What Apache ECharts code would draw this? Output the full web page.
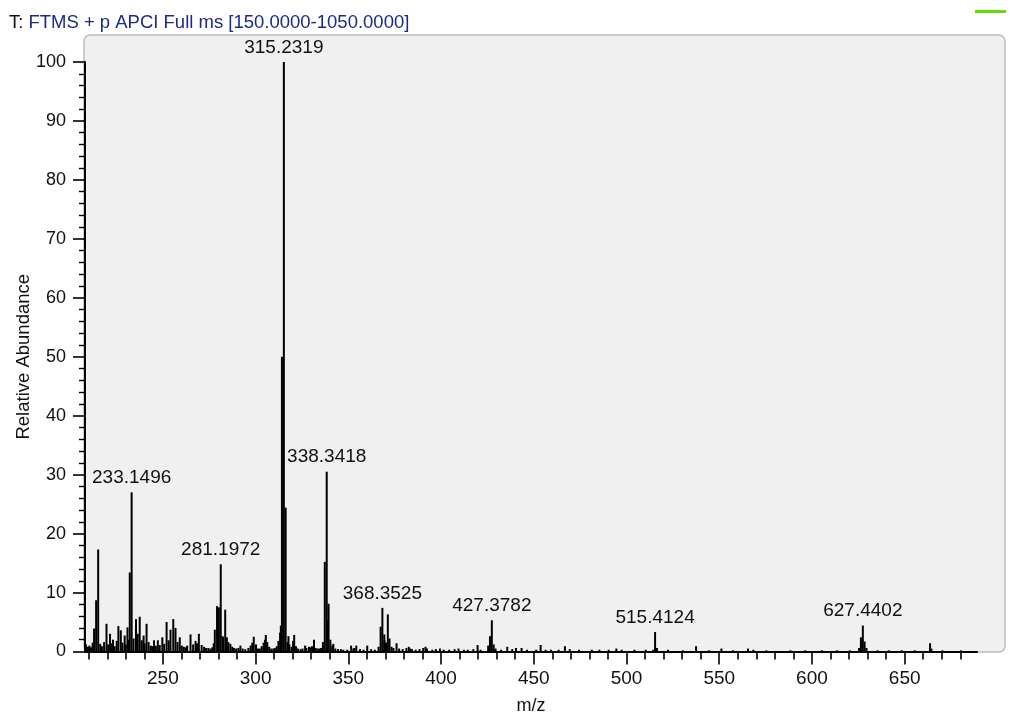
<!DOCTYPE html>
<html>
<head>
<meta charset="utf-8">
<title>FTMS + p APCI Full ms</title>
<script src="https://cdn.jsdelivr.net/npm/echarts@6/dist/echarts.min.js"></script>
<style>
  html, body { margin: 0; padding: 0; background: #ffffff; }
  #chart { width: 1011px; height: 715px; }
</style>
</head>
<body>
<div id="chart"></div>
<script>
// Annotated peaks: m/z and relative abundance (%)
const labeledMz = [233.1496, 281.1972, 315.2319, 338.3418, 368.3525, 427.3782, 515.4124, 627.4402];
const labeledAbundance = [27.0, 14.8, 100, 30.5, 7.4, 5.3, 3.3, 4.4];

// Other resolved peaks [m/z, relative abundance]
const otherPeaks = [
  [212.9, 3.9], [214.0, 8.7], [215.1, 17.3], [219.6, 4.7], [221.5, 3.0], [223.1, 2.0],
  [226.0, 4.3], [227.3, 3.6], [229.4, 2.7], [230.9, 4.1], [232.14, 13.4], [235.5, 5.5],
  [236.4, 3.0], [237.5, 5.9], [239.6, 2.7], [241.2, 4.7], [245.2, 1.9], [247.3, 1.9],
  [249.7, 2.4], [252.0, 5.0], [254.1, 3.7], [255.6, 5.5], [256.8, 4.0], [259.1, 2.4],
  [264.9, 2.9], [267.6, 1.8], [269.4, 3.0], [278.0, 3.7], [279.2, 7.7], [280.2, 7.5],
  [282.5, 2.4], [283.6, 7.1], [286.4, 1.3], [291.8, 1.0], [299.0, 2.5], [304.3, 1.5],
  [305.5, 2.8], [313.6, 4.4], [314.2, 50.0], [316.2, 24.4], [317.7, 2.6], [320.8, 2.8],
  [326.7, 1.0], [328.8, 0.8], [331.5, 2.0], [337.3, 15.2], [338.8, 5.3], [339.35, 8.1],
  [341.9, 1.3], [351.5, 1.0], [354.3, 1.0], [360.2, 1.0], [367.4, 4.2], [369.5, 1.9],
  [371.3, 6.3], [372.2, 2.2], [376.0, 1.4], [382.6, 0.8], [391.6, 0.8], [419.7, 1.1],
  [426.37, 2.6], [435.7, 0.8], [453.7, 1.1], [466.8, 0.9], [494.5, 0.5], [537.5, 0.9],
  [551.2, 0.5], [565.5, 0.5], [626.4, 2.4], [628.4, 1.7], [663.7, 1.4]
];

// Low-level baseline signal [m/z, relative abundance]
const baselinePeaks = [
  [208.5, 1.2], [209.6, 0.8], [210.4, 1.0], [211.2, 0.7], [212.1, 1.5], [216.2, 1.3],
  [217.1, 0.9], [218.3, 1.6], [220.5, 1.2], [222.3, 1.4], [224.0, 0.9], [225.1, 1.8],
  [228.2, 1.5], [230.0, 1.2], [231.6, 2.0], [234.2, 2.2], [236.2, 3.0], [238.6, 1.9],
  [240.2, 1.4], [242.3, 1.6], [243.4, 1.0], [244.2, 0.9], [246.2, 1.0], [248.3, 1.1],
  [250.7, 1.3], [253.1, 1.9], [257.9, 1.6], [260.2, 1.0], [261.3, 0.8], [262.4, 0.7],
  [263.1, 1.0], [266.3, 1.2], [268.4, 1.4], [270.9, 1.1], [272.2, 0.8], [273.3, 0.6],
  [274.5, 0.6], [275.6, 0.5], [276.6, 0.7], [277.4, 1.4], [282.2, 2.6], [284.5, 2.4],
  [285.3, 1.6], [287.4, 0.8], [288.3, 0.6], [289.5, 0.5], [290.7, 0.6], [293.0, 0.5],
  [294.4, 0.4], [296.1, 0.6], [297.3, 1.0], [298.2, 1.5], [300.2, 1.2], [301.3, 0.5],
  [302.3, 0.5], [303.3, 0.9], [305.1, 2.0], [306.3, 1.6], [307.3, 0.8], [308.4, 0.5],
  [309.5, 0.5], [310.4, 0.6], [311.4, 0.9], [312.3, 1.8], [313.2, 3.2], [317.2, 1.6],
  [318.2, 1.2], [319.4, 0.8], [320.2, 1.8], [321.8, 0.9], [322.8, 0.5], [324.2, 0.4],
  [325.3, 0.5], [327.4, 0.6], [329.6, 0.7], [330.4, 0.9], [332.4, 0.6], [333.5, 0.5],
  [334.4, 0.5], [335.3, 0.6], [336.3, 1.6], [340.3, 2.0], [341.3, 1.0], [343.0, 0.5],
  [344.4, 0.4], [346.0, 0.4], [347.3, 0.3], [349.4, 0.3], [352.7, 0.5], [353.3, 0.6],
  [356.3, 0.4], [358.2, 0.3], [362.3, 0.4], [364.3, 0.3], [366.3, 0.8], [369.4, 2.9],
  [370.3, 1.5], [373.3, 0.8], [374.3, 0.6], [377.4, 0.5], [379.3, 0.4], [381.3, 0.6],
  [383.4, 0.5], [384.3, 0.4], [386.3, 0.3], [388.4, 0.4], [390.4, 0.6], [392.4, 0.5],
  [395.3, 0.3], [397.2, 0.4], [399.4, 0.5], [401.4, 0.3], [404.4, 0.3], [407.3, 0.4],
  [409.4, 0.5], [412.3, 0.3], [414.4, 0.3], [417.4, 0.4], [421.3, 0.3], [425.4, 1.0],
  [428.4, 1.2], [429.4, 0.5], [432.4, 0.3], [438.4, 0.4], [440.4, 0.6], [443.4, 0.6],
  [446.3, 0.3], [451.3, 0.3], [456.4, 0.3], [459.3, 0.3], [463.4, 0.3], [469.4, 0.4],
  [474.4, 0.3], [481.3, 0.3], [485.4, 0.3], [490.4, 0.3], [497.4, 0.3], [504.3, 0.3],
  [510.4, 0.3], [514.4, 0.3], [516.4, 0.6], [522.4, 0.3], [530.4, 0.2], [544.4, 0.2],
  [557.4, 0.2], [568.4, 0.3], [575.4, 0.2], [588.4, 0.2], [596.4, 0.2], [605.4, 0.2],
  [613.4, 0.2], [620.4, 0.2], [625.4, 0.6], [629.4, 0.6], [635.4, 0.2], [641.4, 0.2],
  [648.4, 0.2], [655.4, 0.2], [664.4, 0.5], [670.4, 0.2], [680.4, 0.2]
];

// Axis ticks
const mzMajorTicks = [250, 300, 350, 400, 450, 500, 550, 600, 650];
const mzMinorTicks = [210, 220, 230, 240, 260, 270, 280, 290, 310, 320, 330, 340, 360, 370, 380, 390,
  410, 420, 430, 440, 460, 470, 480, 490, 510, 520, 530, 540, 560, 570, 580, 590,
  610, 620, 630, 640, 660, 670, 680];
const mzRange = [208, 689];

const FONT = '"Liberation Sans", Arial, sans-serif';

const stickData = [];
baselinePeaks.forEach(p => stickData.push({ value: p }));
otherPeaks.forEach(p => stickData.push({ value: p }));
labeledMz.forEach((mz, i) => stickData.push({
  value: [mz, labeledAbundance[i]],
  label: { show: true }
}));
stickData.sort((a, b) => a.value[0] - b.value[0]);

const chart = echarts.init(document.getElementById('chart'), null, { renderer: 'canvas' });

chart.setOption({
  animation: false,
  backgroundColor: '#ffffff',
  title: {
    left: 4,
    top: 8,
    text: '{k|T:} {v|FTMS + p APCI Full ms [150.0000-1050.0000]}',
    textStyle: {
      fontWeight: 'normal',
      rich: {
        k: { color: '#111111', fontSize: 18.5, fontWeight: 'normal', fontFamily: FONT },
        v: { color: '#1c2a8c', fontSize: 18.5, fontWeight: 'normal', fontFamily: FONT }
      }
    }
  },
  graphic: [
    {
      type: 'rect',
      z: -10,
      shape: { x: 84, y: 35, width: 921, height: 617, r: 6 },
      style: { fill: '#f0f0f0', stroke: '#bcbcbc', lineWidth: 1.5 }
    },
    {
      type: 'rect',
      z: -10,
      shape: { x: 975, y: 10, width: 31, height: 3 },
      style: { fill: '#66dd00' }
    }
  ],
  grid: { left: 85, right: 34, top: 62, bottom: 63.5, containLabel: false, outerBoundsMode: 'none' },
  xAxis: [
    {
      type: 'value',
      min: mzRange[0],
      max: mzRange[1],
      name: 'm/z',
      nameLocation: 'middle',
      nameGap: 46,
      nameMoveOverlap: false,
      nameTextStyle: { color: '#111', fontSize: 18, fontFamily: FONT },
      axisLine: { show: true, onZero: false, lineStyle: { color: '#000', width: 2 } },
      axisTick: { show: true, customValues: mzMajorTicks, length: 13, lineStyle: { color: '#000', width: 1.6 } },
      axisLabel: { show: true, customValues: mzMajorTicks, margin: 18, color: '#111', fontSize: 19, fontFamily: FONT },
      splitLine: { show: false }
    },
    {
      type: 'value',
      min: mzRange[0],
      max: mzRange[1],
      position: 'bottom',
      axisLine: { show: false },
      axisTick: { show: true, customValues: mzMinorTicks, length: 8, lineStyle: { color: '#000', width: 1.6 } },
      axisLabel: { show: false },
      splitLine: { show: false }
    }
  ],
  yAxis: {
    type: 'value',
    min: 0,
    max: 100,
    interval: 10,
    name: 'Relative Abundance',
    nameLocation: 'middle',
    nameGap: 52,
    nameMoveOverlap: false,
    nameTextStyle: { color: '#111', fontSize: 18.5, fontFamily: FONT },
    axisLine: { show: true, lineStyle: { color: '#000', width: 2 } },
    axisTick: { show: true, length: 12, lineStyle: { color: '#000', width: 1.6 } },
    minorTick: { show: true, splitNumber: 5, length: 6, lineStyle: { color: '#000', width: 1.4 } },
    axisLabel: { margin: 19, color: '#111', fontSize: 18, fontFamily: FONT },
    splitLine: { show: false },
    minorSplitLine: { show: false }
  },
  series: [
    {
      type: 'bar',
      xAxisIndex: 0,
      yAxisIndex: 0,
      barWidth: 2,
      itemStyle: { color: '#000000' },
      label: {
        show: false,
        position: 'top',
        distance: 5,
        color: '#111',
        fontSize: 19,
        fontFamily: FONT,
        formatter: p => p.value[0].toFixed(4)
      },
      data: stickData
    }
  ]
});
</script>
</body>
</html>
